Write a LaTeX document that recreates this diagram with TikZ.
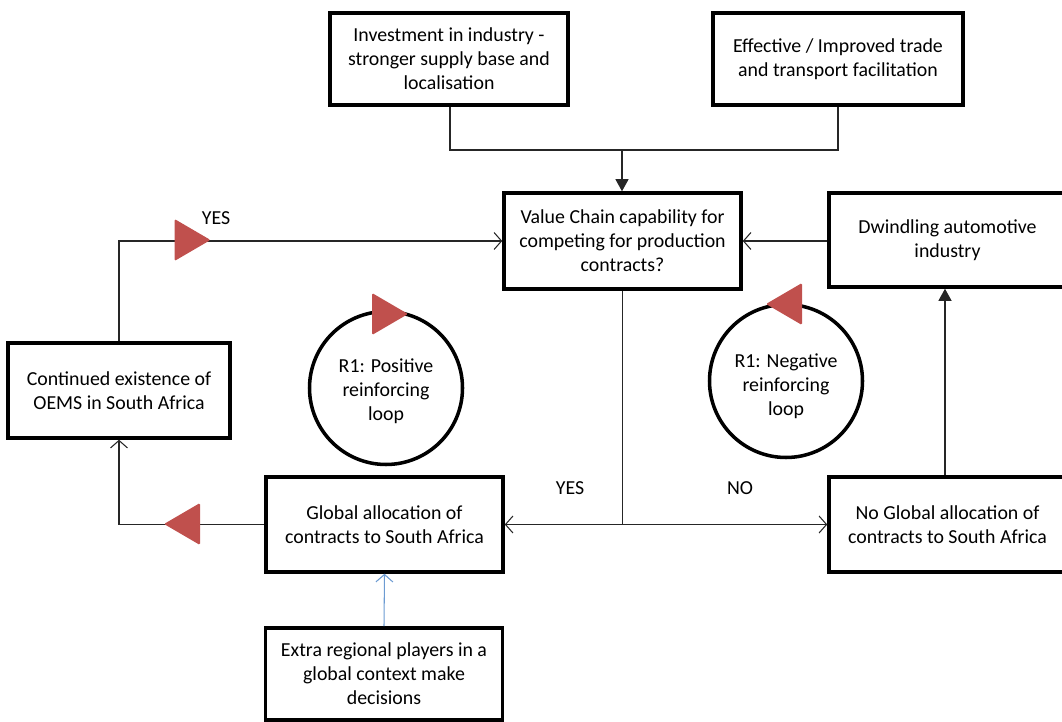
\documentclass[tikz,border=0pt]{standalone}
\usepackage{fontspec}
\setmainfont{Carlito}
\usetikzlibrary{arrows.meta}
\definecolor{loopred}{HTML}{C0504D}
\definecolor{linkblue}{HTML}{6C9BD2}
\newcommand{\loopTriangle}[3]{%
    \fill[loopred, rounded corners=0.8pt, shift={(#1,#2)}, rotate=#3]
        (-0.36,0.42) -- (0.36,0) -- (-0.36,-0.42) -- cycle;
}

\begin{document}
\begin{tikzpicture}[
    every node/.style={font=\fontsize{11.3}{13.6}\selectfont},
    factor/.style={draw, line width=2pt, minimum width=4.74cm, minimum height=1.9cm, align=center, inner sep=2pt},
    loopring/.style={draw, circle, line width=2pt, minimum size=3.06cm, align=center, inner sep=0pt},
    link/.style={line width=0.6pt, black!85},
    open/.style={-{Straight Barb[length=1.5mm, width=3.4mm]}},
    solid tip/.style={-{Triangle[length=2.4mm, width=2.6mm]}}
]
\useasboundingbox (0,0) rectangle (21.24,-14.44);

\node[factor, minimum width=4.76cm, minimum height=1.84cm] (invest) at (8.98,-1.18) {Investment in industry -\\stronger supply base and\\localisation};
\node[factor, minimum width=5.0cm, minimum height=1.84cm] (trade) at (16.76,-1.18) {Effective / Improved trade\\and transport facilitation};
\node[factor, minimum height=1.92cm] (value) at (12.45,-4.82) {Value Chain capability for\\competing for production\\contracts?};
\node[factor, minimum width=4.74cm, minimum height=1.88cm] (dwindle) at (18.95,-4.80) {Dwindling automotive\\industry};
\node[factor, minimum width=4.44cm] (oems) at (2.38,-7.81) {Continued existence of\\OEMS in South Africa};
\node[factor] (alloc) at (7.69,-10.49) {Global allocation of\\contracts to South Africa};
\node[factor, minimum width=4.74cm] (noalloc) at (18.95,-10.49) {No Global allocation of\\contracts to South Africa};
\node[factor, minimum height=1.84cm] (players) at (7.68,-13.48) {Extra regional players in a\\global context make\\decisions};

\node[loopring] (posloop) at (7.72,-7.76) {\\[-2pt]R1: Positive\\reinforcing\\loop};
\node[loopring] (negloop) at (15.72,-7.62) {\\[0pt]R1: Negative\\reinforcing\\loop};

\coordinate (join) at (12.44,-3.0);
\draw[link] (invest.south -| 9.0,0) |- (join) -| (trade.south);
\draw[link, solid tip] (join) -- (value.north -| join);

\draw[link, open] (oems.north) |- (value.west);
\draw[link, open] (value.south) |- (alloc.east);
\draw[link, open] (value.south) |- (noalloc.west);
\draw[link, open] (alloc.west) -| (oems.south);
\draw[link, solid tip] (noalloc.north -| 18.9,0) -- (dwindle.south -| 18.9,0);
\draw[link, open] (dwindle.west |- value.west) -- (value.east |- value.west);
\draw[line width=0.6pt, linkblue, open] (players.north) -- (alloc.south);

\node (yesup) at (4.32,-4.36) {YES};
\node (yesleft) at (11.4,-9.76) {YES};
\node (noright) at (14.8,-9.76) {NO};

\loopTriangle{3.85}{-4.8}{0}
\loopTriangle{3.64}{-10.48}{180}
\loopTriangle{7.8}{-6.28}{0}
\loopTriangle{15.68}{-6.08}{180}
\end{tikzpicture}
\end{document}
